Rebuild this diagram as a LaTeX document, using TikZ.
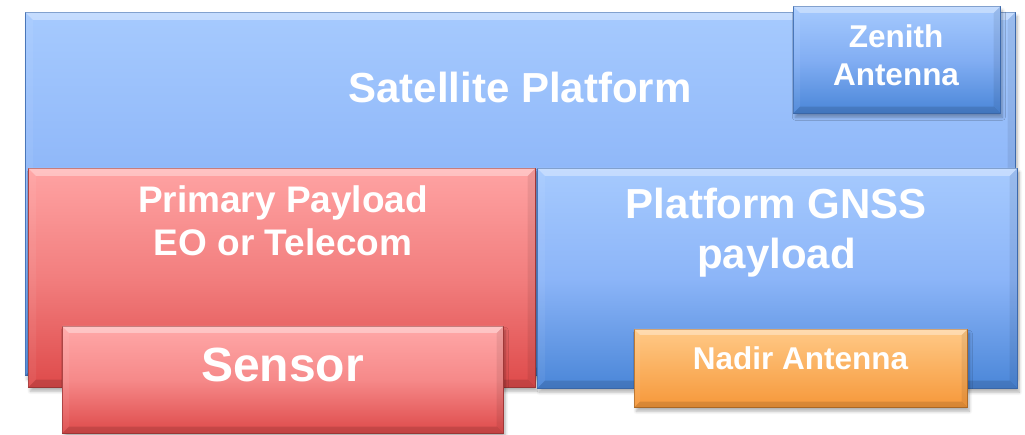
\documentclass[tikz,border=0pt]{standalone}
\usepackage{fontspec}
\setmainfont{Liberation Sans}
\usetikzlibrary{shadows.blur}
\definecolor{bluetop}{HTML}{A6CAFE}
\definecolor{bluemid}{HTML}{8CB5F8}
\definecolor{bluebot}{HTML}{4A86D8}
\definecolor{blueedge}{HTML}{3F6FB5}
\definecolor{redtop}{HTML}{FFA3A3}
\definecolor{redmid}{HTML}{F27E7E}
\definecolor{redbot}{HTML}{DE4A4A}
\definecolor{rededge}{HTML}{A83A3A}
\definecolor{orgtop}{HTML}{FFC986}
\definecolor{orgbot}{HTML}{F6983A}
\definecolor{orgedge}{HTML}{B8712A}
\newcommand{\mybevel}[2]{%
  \fill[white,opacity=0.35] (#1.north west) -- (#1.north east) -- ([xshift=-#2,yshift=-#2]#1.north east) -- ([xshift=#2,yshift=-#2]#1.north west) -- cycle;
  \fill[white,opacity=0.06] (#1.north west) -- ([xshift=#2,yshift=-#2]#1.north west) -- ([xshift=#2,yshift=#2]#1.south west) -- (#1.south west) -- cycle;
  \fill[black,opacity=0.07] (#1.north east) -- ([xshift=-#2,yshift=-#2]#1.north east) -- ([xshift=-#2,yshift=#2]#1.south east) -- (#1.south east) -- cycle;
  \fill[black,opacity=0.12] (#1.south west) -- (#1.south east) -- ([xshift=-#2,yshift=#2]#1.south east) -- ([xshift=#2,yshift=#2]#1.south west) -- cycle;
}
\tikzset{
  box/.style={rectangle, inner sep=0pt, anchor=north west, line width=0.6pt,
    blur shadow={shadow xshift=2pt, shadow yshift=-4pt, shadow blur steps=6, shadow opacity=30, shadow blur radius=3pt}},
  bluebox/.style={box, draw=blueedge, top color=bluetop, bottom color=bluebot, middle color=bluemid},
  redbox/.style={box, draw=rededge, top color=redtop, bottom color=redbot, middle color=redmid},
  orgbox/.style={box, draw=orgedge, top color=orgtop, bottom color=orgbot},
  lbl/.style={text=white, font=\bfseries, align=center, inner sep=0pt}
}
\begin{document}
\begin{tikzpicture}[x=1pt,y=-1pt]
\useasboundingbox (0,0) rectangle (1025,435);
% Satellite platform
\node[bluebox, minimum width=990pt, minimum height=363pt] (plat) at (25,12) {};
\mybevel{plat}{8pt}
\node[bluebox, top color=bluetop, bottom color=bluebot, middle color=bluemid!85!bluebot, minimum width=207pt, minimum height=107pt] (zen) at (793,6) {};
\mybevel{zen}{7pt}
% Primary payload
\node[redbox, minimum width=507pt, minimum height=219pt] (prim) at (28,168) {};
\mybevel{prim}{8pt}
% GNSS payload
\node[bluebox, minimum width=480pt, minimum height=220pt] (gnss) at (537,168) {};
\mybevel{gnss}{8pt}
% Sensor
\node[redbox, top color=redtop!95!white, middle color=redmid!70!redtop, minimum width=441pt, minimum height=107pt] (sens) at (62,326) {};
\mybevel{sens}{7pt}
% Nadir antenna
\node[orgbox, minimum width=333pt, minimum height=78pt] (nadir) at (634,329) {};
\mybevel{nadir}{6pt}
% Labels
\node[lbl, font=\bfseries\fontsize{42}{50}\selectfont] (tplat) at (520,87.5) {Satellite Platform};
\node[lbl, font=\bfseries\fontsize{31.5}{38}\selectfont] (tzen) at (896,55) {Zenith\\Antenna};
\node[lbl, font=\bfseries\fontsize{37}{43}\selectfont] (tprim) at (283,220.5) {Primary Payload\\EO or Telecom};
\node[lbl, font=\bfseries\fontsize{42}{50}\selectfont] (tgnss) at (776.5,232.5) {Platform GNSS\\payload};
\node[lbl, font=\bfseries\fontsize{48}{56}\selectfont] (tsens) at (282.5,364.5) {Sensor};
\node[lbl, font=\bfseries\fontsize{31.5}{38}\selectfont] (tnadir) at (800.5,358.5) {Nadir Antenna};
\end{tikzpicture}
\end{document}
